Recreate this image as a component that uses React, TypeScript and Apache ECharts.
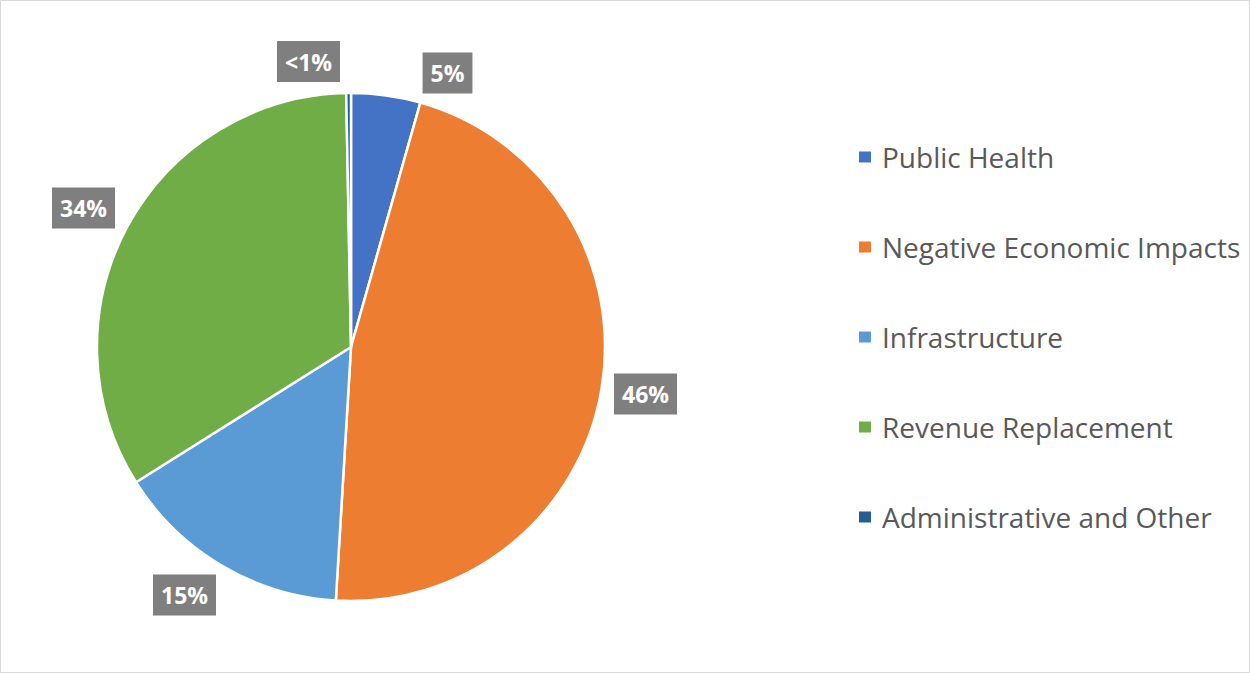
import React, { useEffect, useRef } from "react";
import * as echarts from "echarts";

const categories = [
  "Public Health",
  "Negative Economic Impacts",
  "Infrastructure",
  "Revenue Replacement",
  "Administrative and Other",
];
const values = [4.4, 46.5, 15.1, 33.6, 0.3];
const labelTexts = ["5%", "46%", "15%", "34%", "<1%"];
const colors = ["#4472C4", "#ED7D31", "#5B9BD5", "#70AD47", "#255E91"];

export default function App() {
  const ref = useRef<HTMLDivElement>(null);
  useEffect(() => {
    if (!ref.current) return;
    const chart = echarts.init(ref.current, null, { renderer: "svg" });
    const labelCenters = [
      [447.5, 73],
      [645.5, 394],
      [184.5, 595],
      [83.5, 208],
      [308.5, 61.5],
    ];
    chart.setOption({
      animation: false,
      backgroundColor: "#FFFFFF",
      color: colors,
      graphic: [
        {
          type: "rect",
          shape: { x: 0.5, y: 0.5, width: 1249, height: 672 },
          style: { fill: "none", stroke: "#D9D9D9", lineWidth: 1 },
          silent: true,
        },
      ],
      legend: {
        orient: "vertical",
        left: 852,
        top: 137,
        icon: "rect",
        itemWidth: 14,
        itemHeight: 13,
        itemGap: 60,
        selectedMode: false,
        data: categories,
        textStyle: {
          fontFamily: "Open Sans",
          fontSize: 28,
          lineHeight: 30,
          color: "#595959",
          padding: [0, 0, 0, 5],
        },
      },
      series: [
        {
          type: "pie",
          center: [351, 347],
          radius: 254,
          startAngle: 90,
          clockwise: true,
          silent: true,
          avoidLabelOverlap: false,
          itemStyle: { borderColor: "#FFFFFF", borderWidth: 2.5 },
          label: {
            show: true,
            position: "outside",
            formatter: (p: any) => labelTexts[p.dataIndex],
            fontFamily: "Open Sans",
            fontWeight: "bold",
            fontSize: 23,
            lineHeight: 23,
            color: "#FFFFFF",
            backgroundColor: "#7F7F7F",
            padding: [9, 8, 9, 8],
          },
          labelLine: { show: false },
          labelLayout: (params: any) => {
            const c = labelCenters[params.dataIndex];
            return { x: c[0], y: c[1], align: "center", verticalAlign: "middle" };
          },
          data: categories.map((name, i) => ({ name, value: values[i] })),
        },
      ],
    });
    return () => chart.dispose();
  }, []);
  return (
    <div
      ref={ref}
      style={{ position: "absolute", left: 0, top: 0, width: 1250, height: 673 }}
    />
  );
}
